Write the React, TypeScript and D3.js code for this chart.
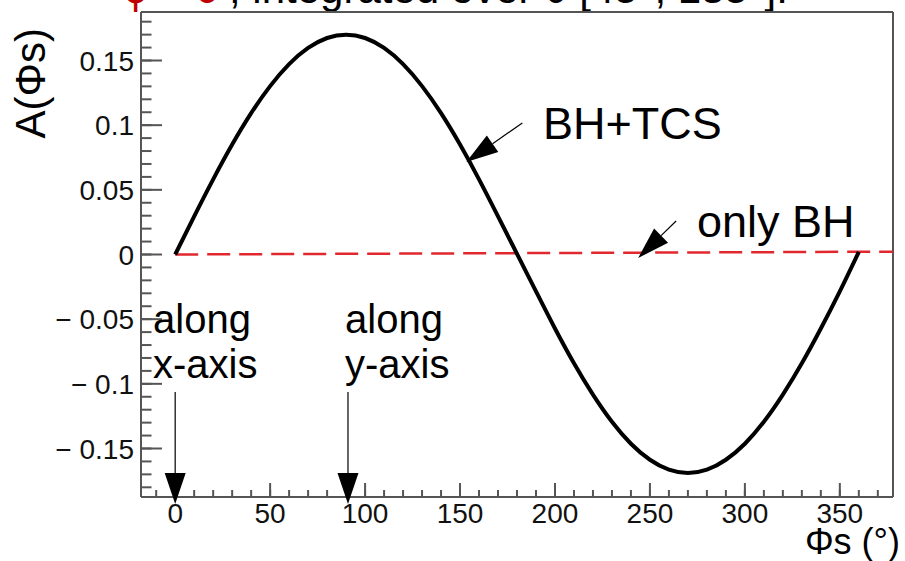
import React from "react";
import * as d3 from "d3";

// Asymmetry A(Φs) for BH+TCS, sampled every 10°
const phiDeg = [0, 10, 20, 30, 40, 50, 60, 70, 80, 90, 100, 110, 120, 130, 140, 150, 160, 170, 180,
  190, 200, 210, 220, 230, 240, 250, 260, 270, 280, 290, 300, 310, 320, 330, 340, 350, 360];
const bhTcs = [0, 0.0295, 0.0581, 0.085, 0.1093, 0.1302, 0.1472, 0.1597, 0.1674, 0.17, 0.1674, 0.1597,
  0.1472, 0.1302, 0.1093, 0.085, 0.0581, 0.0295, 0.0005, -0.0285, -0.0572, -0.0841, -0.1083, -0.1293,
  -0.1463, -0.1587, -0.1664, -0.169, -0.1664, -0.1587, -0.1463, -0.1293, -0.1083, -0.0841, -0.0572,
  -0.0285, 0.002];

// Pure Bethe-Heitler asymmetry (flat)
const bhPhi = [0, 378];
const bhOnly = [0, 0.0022];

const xTicks = [0, 50, 100, 150, 200, 250, 300, 350];
const yTicks = [-0.15, -0.1, -0.05, 0, 0.05, 0.1, 0.15];
const yTickLabels = ["− 0.15", "− 0.1", "− 0.05", "0", "0.05", "0.1", "0.15"];

const W = 905;
const H = 561;
const FONT = "'Liberation Sans', Arial, Helvetica, sans-serif";

const x = d3.scaleLinear().domain([-18, 378]).range([141, 893]);
const y = d3.scaleLinear().domain([-0.1875, 0.1875]).range([497, 12]);

function Arrow({ x1, y1, x2, y2, len = 32, half = 10 }: { x1: number; y1: number; x2: number; y2: number; len?: number; half?: number }) {
  const dx = x2 - x1;
  const dy = y2 - y1;
  const d = Math.hypot(dx, dy);
  const ux = dx / d;
  const uy = dy / d;
  const bx = x2 - ux * len;
  const by = y2 - uy * len;
  const px = -uy * half;
  const py = ux * half;
  const pts = `${x2},${y2} ${bx + px},${by + py} ${bx - px},${by - py}`;
  return (
    <g>
      <line x1={x1} y1={y1} x2={bx} y2={by} stroke="#000" strokeWidth={1.2} />
      <polygon points={pts} fill="#000" />
    </g>
  );
}

export default function App() {
  const curve = d3
    .line<number>()
    .x((_, i) => x(phiDeg[i]))
    .y((v) => y(v))
    .curve(d3.curveNatural)(bhTcs) as string;

  const bhLine = d3
    .line<number>()
    .x((_, i) => x(bhPhi[i]))
    .y((v) => y(v))(bhOnly) as string;

  const xMinor = d3.range(-10, 371, 10);
  const yMinor = d3.range(-18, 19, 1).map((v) => v / 100);

  const axisColor = "#555";

  return (
    <svg width={W} height={H} style={{ position: "absolute", left: 0, top: 0, background: "#fff" }} fontFamily={FONT}>
      {/* title, partly above the canvas */}
      <text y={3} fontSize={42} fill="#000">
        <tspan x={124} fill="#c00000">ϕ = 0°</tspan>
        <tspan x={229}>, integrated over θ [45°, 135°].</tspan>
      </text>

      {/* frame */}
      <line x1={141} y1={12} x2={893} y2={12} stroke={axisColor} strokeWidth={2} />
      <line x1={893} y1={12} x2={893} y2={497} stroke={axisColor} strokeWidth={2} />

      {/* y axis */}
      <line x1={141} y1={12} x2={141} y2={497} stroke={axisColor} strokeWidth={2} />
      {yMinor.map((v) => (
        <line key={"ym" + v} x1={141} x2={151.5} y1={y(v)} y2={y(v)} stroke={axisColor} strokeWidth={2} />
      ))}
      {yTicks.map((v, i) => (
        <g key={"yt" + v}>
          <line x1={141} x2={162} y1={y(v)} y2={y(v)} stroke={axisColor} strokeWidth={2} />
          <text x={134} y={y(v) + 10} fontSize={28} textAnchor="end" fill="#111">
            {yTickLabels[i]}
          </text>
        </g>
      ))}

      {/* x axis */}
      <line x1={141} y1={497} x2={893} y2={497} stroke={axisColor} strokeWidth={2} />
      {xMinor.map((v) => (
        <line key={"xm" + v} x1={x(v)} x2={x(v)} y1={497} y2={490} stroke={axisColor} strokeWidth={2} />
      ))}
      {xTicks.map((v) => (
        <g key={"xt" + v}>
          <line x1={x(v)} x2={x(v)} y1={497} y2={483} stroke={axisColor} strokeWidth={2} />
          <text x={x(v)} y={523} fontSize={28} textAnchor="middle" fill="#111">
            {v}
          </text>
        </g>
      ))}

      {/* axis titles */}
      <text transform="translate(45,28) rotate(-90)" fontSize={42} textAnchor="end" fill="#000">
        A(Φs)
      </text>
      <text x={900} y={554} fontSize={36} textAnchor="end" fill="#000">
        Φs (°)
      </text>

      {/* curves */}
      <path d={bhLine} fill="none" stroke="#e0282e" strokeWidth={2.5} strokeDasharray="23,9" />
      <path d={curve} fill="none" stroke="#000" strokeWidth={4} strokeLinejoin="round" />

      {/* annotations */}
      <text x={543} y={139} fontSize={45} fill="#000">BH+TCS</text>
      <Arrow x1={x(182.8)} y1={y(0.1017)} x2={x(153.3)} y2={y(0.0715)} />

      <text x={697} y={237} fontSize={45} fill="#000">only BH</text>
      <Arrow x1={x(263.8)} y1={y(0.0259)} x2={x(243.8)} y2={y(-0.0027)} />

      <text x={153} fontSize={40} fill="#000">
        <tspan x={153} y={333}>along</tspan>
        <tspan x={153} y={378}>x-axis</tspan>
      </text>
      <Arrow x1={x(0)} y1={392} x2={x(0)} y2={504} len={31} half={10.5} />

      <text fontSize={40} fill="#000">
        <tspan x={345} y={333}>along</tspan>
        <tspan x={345} y={378}>y-axis</tspan>
      </text>
      <Arrow x1={x(91)} y1={392} x2={x(91)} y2={504} len={31} half={10.5} />
    </svg>
  );
}
